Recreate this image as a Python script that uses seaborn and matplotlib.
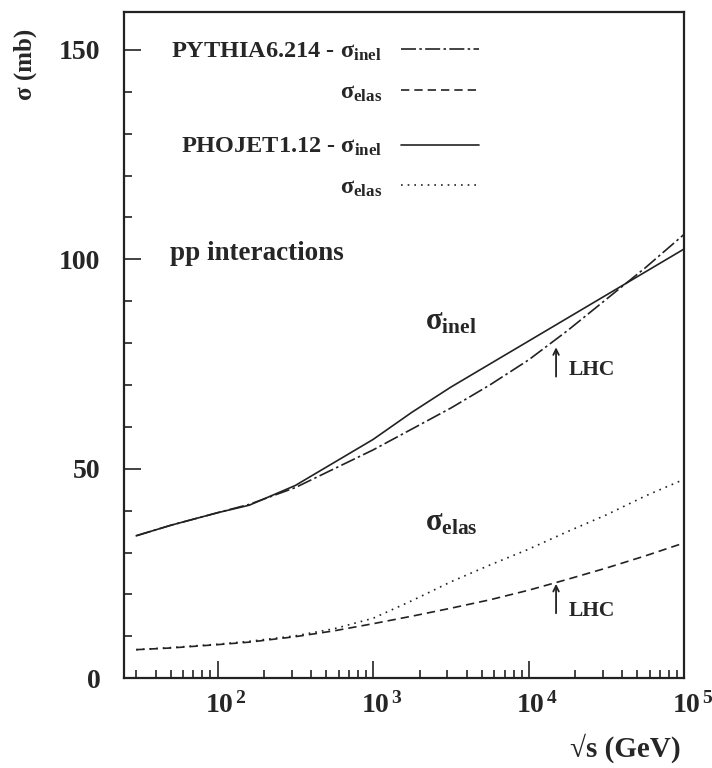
import numpy as np
import pandas as pd
import matplotlib
matplotlib.use("Agg")
import matplotlib.pyplot as plt
import matplotlib.transforms as mtrans
import seaborn as sns
from matplotlib.ticker import LogLocator, MultipleLocator, FuncFormatter

# data
sqrt_s = [30, 50, 100, 160, 316, 562, 1000, 1778, 3162, 5623, 10000, 17783, 31623, 56234, 100000]
pythia_inel = [34.0, 36.5, 39.5, 41.5, 45.5, 50.0, 54.5, 59.5, 64.5, 70.0, 76.0, 83.0, 90.5, 98.0, 106.0]
pythia_elas = [6.8, 7.2, 8.0, 8.6, 9.9, 11.3, 13.0, 14.8, 16.7, 18.7, 21.0, 23.6, 26.3, 29.2, 32.3]
phojet_inel = [34.0, 36.5, 39.5, 41.3, 46.0, 51.5, 57.0, 63.5, 69.5, 75.0, 80.5, 86.0, 91.5, 97.0, 102.5]
phojet_elas = [6.8, 7.3, 8.1, 8.8, 10.1, 11.8, 14.3, 18.5, 23.0, 27.0, 30.8, 35.0, 39.0, 43.5, 47.5]
lhc_energy = 15000

sns.set_style("ticks")
plt.rcParams['font.family'] = ['Liberation Serif', 'DejaVu Serif']
plt.rcParams['font.weight'] = 'bold'
plt.rcParams['axes.labelweight'] = 'bold'
plt.rcParams['mathtext.fontset'] = 'custom'
plt.rcParams['mathtext.rm'] = 'Liberation Serif:bold'
plt.rcParams['mathtext.it'] = 'Liberation Serif:bold'
plt.rcParams['mathtext.bf'] = 'Liberation Serif:bold'
plt.rcParams['mathtext.default'] = 'rm'

fig = plt.figure(figsize=(7.12, 7.68), dpi=100)
ax = fig.add_axes([0.174, 0.117, 0.787, 0.867])

col = "#222222"
lw = 1.2
styles = {
    "py_inel": (0, (9, 2, 1.5, 2)),
    "py_elas": (0, (5, 3)),
    "ph_inel": "-",
    "ph_elas": (0, (1, 3)),
}

l1 = sns.lineplot(x=sqrt_s, y=pythia_inel, ax=ax, color=col, lw=lw, linestyle=styles["py_inel"],
                  label="PYTHIA6.214 - σ$_{inel}$", legend=False).lines[-1]
l2 = sns.lineplot(x=sqrt_s, y=pythia_elas, ax=ax, color=col, lw=lw, linestyle=styles["py_elas"],
                  label="σ$_{elas}$", legend=False).lines[-1]
l3 = sns.lineplot(x=sqrt_s, y=phojet_inel, ax=ax, color=col, lw=lw, linestyle=styles["ph_inel"],
                  label="PHOJET1.12 - σ$_{inel}$", legend=False).lines[-1]
l4 = sns.lineplot(x=sqrt_s, y=phojet_elas, ax=ax, color=col, lw=lw, linestyle=styles["ph_elas"],
                  label="σ$_{elas}$", legend=False).lines[-1]

ax.set_xscale("log")
ax.set_xlim(25, 1e5)
ax.set_ylim(0, 159)

leg_kw = dict(markerfirst=False, frameon=False, fontsize=17.5, handlelength=3.2,
              handletextpad=0.8, labelspacing=0.75, borderaxespad=0, borderpad=0)
leg1 = ax.legend(handles=[l1, l2], loc="upper right", bbox_to_anchor=(0.634, 0.957), **leg_kw)
ax.add_artist(leg1)
ax.legend(handles=[l3, l4], loc="upper right", bbox_to_anchor=(0.634, 0.814), **leg_kw)

ax.text(0.083, 0.638, "pp interactions", transform=ax.transAxes, fontsize=19.5,
        ha="left", va="center")

# curve labels
ax.text(3162, 85, "σ$_{inel}$", fontsize=22, ha="center", va="center")
ax.text(3162, 37, "σ$_{elas}$", fontsize=22, ha="center", va="center")

# LHC arrows
for y0, y1, yt in [(72, 79, 73.5), (15.5, 22.5, 16)]:
    ax.annotate("", xy=(lhc_energy, y1), xytext=(lhc_energy, y0),
                arrowprops=dict(arrowstyle="->", color=col, lw=1.3, shrinkA=0, shrinkB=0))
    ax.text(lhc_energy * 1.2, yt, "LHC", fontsize=15.5, ha="left", va="center")

ax.xaxis.set_major_locator(LogLocator(base=10, numticks=10))
ax.xaxis.set_minor_locator(LogLocator(base=10, subs=np.arange(2, 10), numticks=20))
ax.xaxis.set_major_formatter(FuncFormatter(lambda v, p: r"$10^{\,%d}$" % round(np.log10(v))))
ax.yaxis.set_major_locator(MultipleLocator(50))
ax.yaxis.set_minor_locator(MultipleLocator(10))
ax.tick_params(which="both", direction="in", top=False, right=False, labelsize=20, width=1.2, color=col)
ax.tick_params(which="major", length=12)
ax.tick_params(which="minor", length=6)
ax.tick_params(axis="y", which="major", pad=17)
ax.tick_params(axis="x", which="major", pad=10)

# shift x tick labels so the "10" sits on the tick, exponent to the right
shift = mtrans.ScaledTranslation(6 / 72, 0, fig.dpi_scale_trans)
for t in ax.xaxis.get_major_ticks():
    t.label1.set_transform(t.label1.get_transform() + shift)

for s in ax.spines.values():
    s.set_linewidth(1.6)
    s.set_color(col)

ax.set_xlabel("√s (GeV)", fontsize=21)
ax.xaxis.set_label_coords(0.993, -0.083)
ax.xaxis.label.set_ha("right")
ax.xaxis.label.set_va("top")
ax.set_ylabel("σ (mb)", fontsize=18)
ax.yaxis.set_label_coords(-0.155, 0.975)
ax.yaxis.label.set_ha("right")

fig.savefig("out.png", dpi=100)
